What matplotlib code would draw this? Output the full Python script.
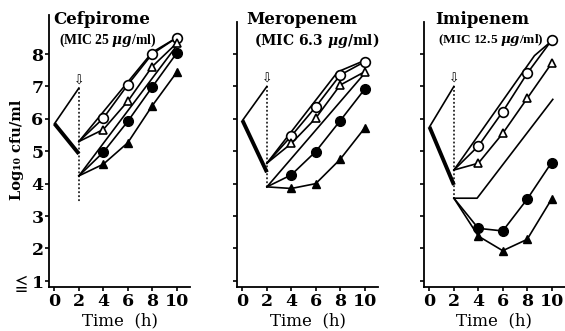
import matplotlib
matplotlib.use("Agg")
import matplotlib.pyplot as plt

plt.rcParams["font.family"] = ["DejaVu Serif", "DejaVu Sans"]
plt.rcParams["font.weight"] = "bold"
plt.rcParams["mathtext.fontset"] = "dejavuserif"

drugs = ["Cefpirome", "Meropenem", "Imipenem"]
mics = ["(MIC 25 $\\mu g$/ml)", "(MIC 6.3 $\\mu g$/ml)", "(MIC 12.5 $\\mu g$/ml)"]

t_obs = [4, 6, 8, 10]

# pre-dose phase: value at t=0, top of thin line at t=2, bottom of thick line at t=2
pre_t0 = [5.85, 5.95, 5.75]
pre_up = [6.95, 7.0, 7.0]
pre_down = [4.92, 4.35, 3.96]
dot_low = [3.4, 3.85, 3.55]

# start points of regrowth at t=2 (upper pair / lower pair)
start_hi = [5.3, 4.63, 4.42]
start_lo = [4.24, 3.9, 3.55]

open_circle = [[6.02, 7.05, 8.0, 8.5],
               [5.47, 6.37, 7.35, 7.76],
               [5.16, 6.22, 7.4, 8.42]]
open_tri = [[5.67, 6.54, 7.61, 8.33],
            [5.24, 6.02, 7.04, 7.45],
            [4.63, 5.55, 6.63, 7.71]]
filled_circle = [[4.97, 5.92, 6.98, 8.02],
                 [4.27, 4.99, 5.94, 6.91],
                 [2.62, 2.54, 3.52, 4.65]]
filled_tri = [[4.6, 5.26, 6.4, 7.43],
              [3.85, 4.0, 4.75, 5.71],
              [2.38, 1.93, 2.28, 3.52]]

# unmarked curves
line_hi_t = [[2, 8, 10], [2, 7.8, 10], [2, 8.6, 10]]
line_hi_y = [[5.3, 8.05, 8.5], [4.63, 7.45, 7.8], [4.42, 7.95, 8.4]]
line_lo_t = [[2, 10], [2, 10], [2, 3.9, 10.1]]
line_lo_y = [[4.24, 8.25], [3.9, 7.4], [3.55, 3.55, 6.6]]

fig = plt.figure(figsize=(5.65, 3.31), dpi=100)
W, H = 565, 331
lefts = [49, 237, 424]
tops = [15, 22, 22]
bottom = 287

mic_font = [["Liberation Serif"], ["DejaVu Serif"], ["Liberation Serif"]]
mic_size = [9.8, 10, 9.6]
mic_x = [0.35, 0.95, 0.7]
title_x = [-0.1, 0.3, 0.45]

for i in range(3):
    ymax = 8 + (54 - tops[i]) / 32.4
    ax = fig.add_axes([lefts[i] / W, (H - bottom) / H, 141 / W, (bottom - tops[i]) / H])
    ax.set_xlim(-0.45, 11.1)
    ax.set_ylim(0.81, ymax)
    for s in ["top", "right"]:
        ax.spines[s].set_visible(False)
    ax.spines["left"].set_linewidth(1.3)
    ax.spines["bottom"].set_linewidth(1.3)

    lw = 1.2
    ax.plot([0, 2], [pre_t0[i], pre_up[i]], color="k", lw=lw)
    ax.plot([0, 2], [pre_t0[i], pre_down[i]], color="k", lw=2.8, solid_capstyle="butt")
    ax.plot([2, 2], [pre_up[i], dot_low[i]], color="k", lw=1.1, ls=(0, (1.2, 1.4)))
    ax.text(2, pre_up[i] + 0.22, "⇩", ha="center", va="center", fontsize=9,
            family=["DejaVu Sans"], fontweight="normal")

    ax.plot(line_hi_t[i], line_hi_y[i], color="k", lw=lw)
    ax.plot(line_lo_t[i], line_lo_y[i], color="k", lw=lw)

    ax.plot([2] + t_obs, [start_hi[i]] + open_circle[i], color="k", lw=lw,
            marker="o", ms=7, mfc="white", mec="k", mew=1.2, markevery=[1, 2, 3, 4])
    ax.plot([2] + t_obs, [start_hi[i]] + open_tri[i], color="k", lw=lw,
            marker="^", ms=6, mfc="white", mec="k", mew=1.2, markevery=[1, 2, 3, 4])
    ax.plot([2] + t_obs, [start_lo[i]] + filled_circle[i], color="k", lw=lw,
            marker="o", ms=7, mfc="k", mec="k", markevery=[1, 2, 3, 4])
    ax.plot([2] + t_obs, [start_lo[i]] + filled_tri[i], color="k", lw=lw,
            marker="^", ms=6, mfc="k", mec="k", markevery=[1, 2, 3, 4])

    ax.set_xticks([0, 2, 4, 6, 8, 10])
    ax.set_yticks(range(1, 9))
    ax.tick_params(direction="out", length=3, width=1.2, labelsize=12.5, pad=1)
    if i == 0:
        ax.set_yticklabels(["$\\leqq$1", "2", "3", "4", "5", "6", "7", "8"])
    else:
        ax.set_yticklabels([])
    ax.set_xlabel("Time  (h)", fontsize=12, labelpad=2)

    ax.text(title_x[i], 9.08, drugs[i], fontsize=12, ha="left",
            va="center", clip_on=False)
    ax.text(mic_x[i], 8.43, mics[i], fontsize=mic_size[i], family=mic_font[i],
            ha="left", va="center", clip_on=False)

fig.text(17 / W, 1 - 150 / H, "Log₁₀ cfu/ml", rotation=90, ha="center", va="center",
         fontsize=10.5)

fig.savefig("out.png", dpi=100)
